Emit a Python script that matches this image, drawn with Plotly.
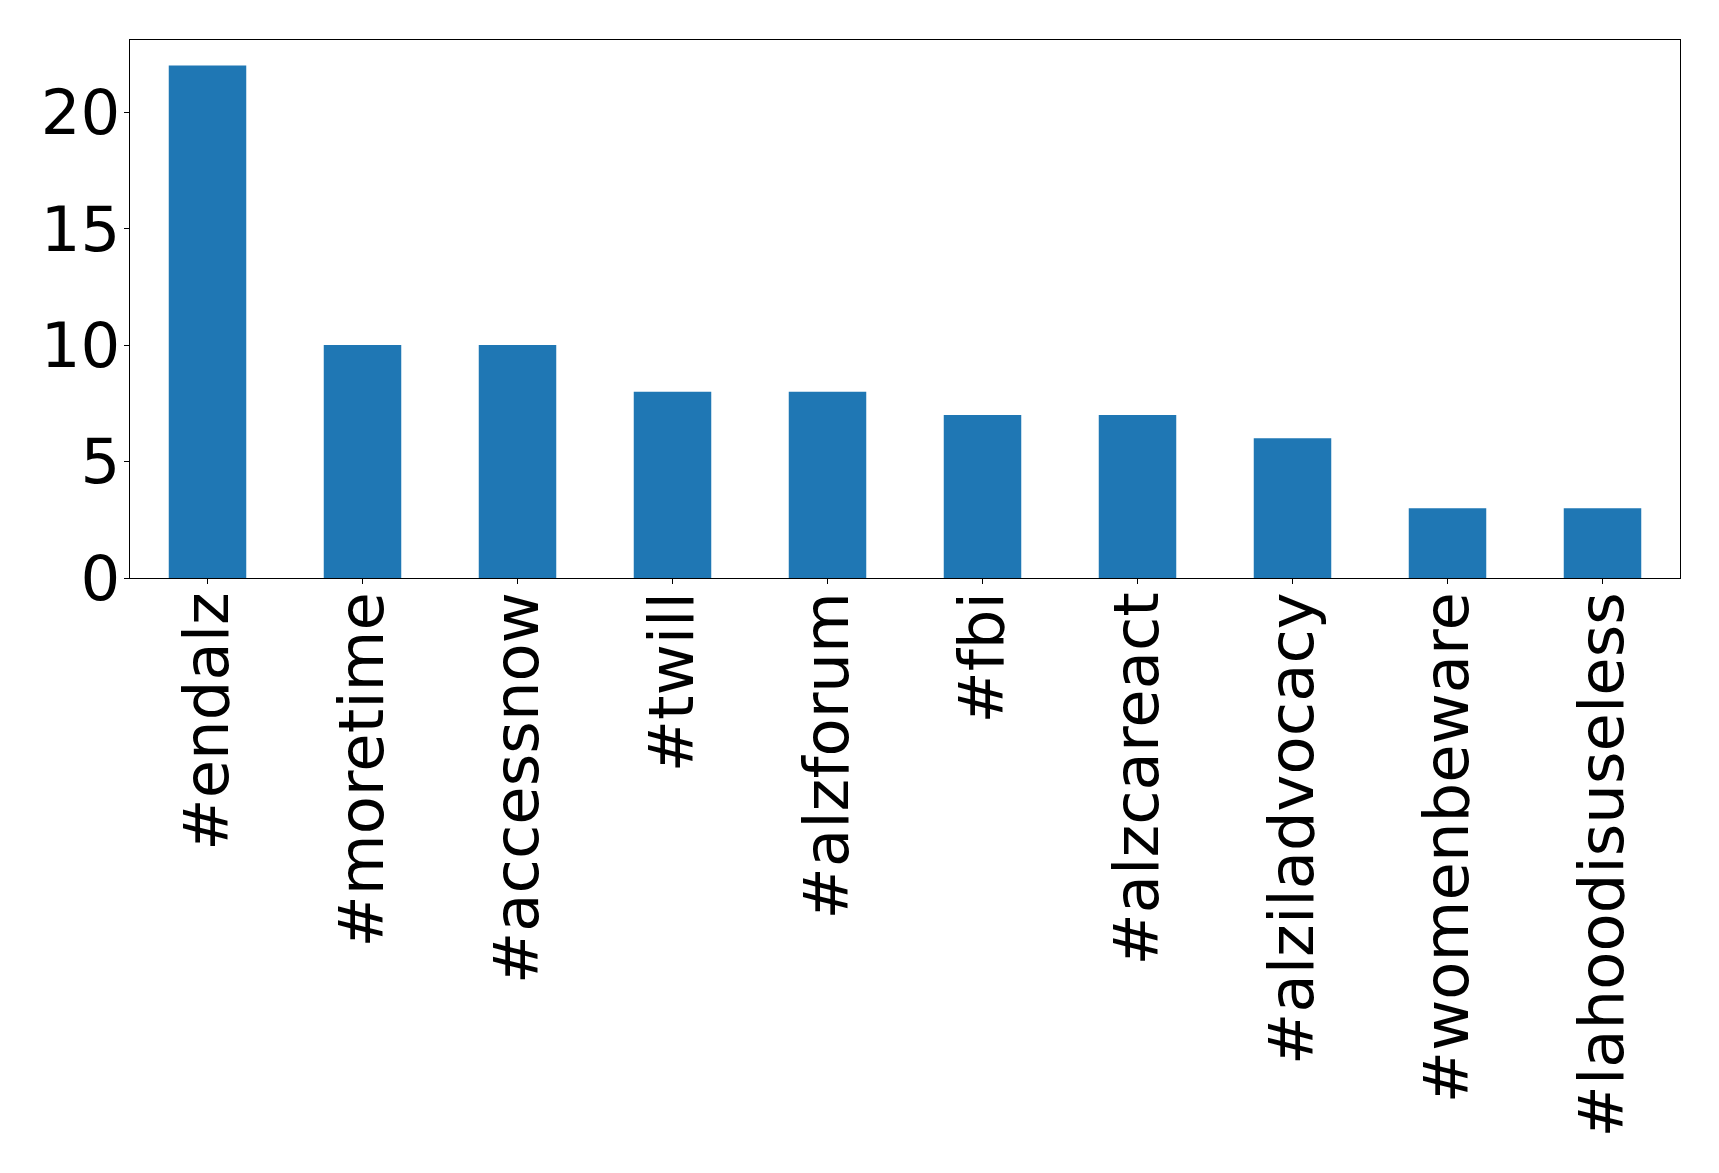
import plotly.graph_objects as go

categories = ["#endalz", "#moretime", "#accessnow", "#twill", "#alzforum",
              "#fbi", "#alzcareact", "#alziladvocacy", "#womenbeware", "#lahoodisuseless"]
counts = [22, 10, 10, 8, 8, 7, 7, 6, 3, 3]
y_ticks = [0, 5, 10, 15, 20]

fig = go.Figure(go.Bar(x=categories, y=counts, width=0.5, marker_color="#1f77b4",
                       marker_line_width=0))

fig.update_layout(
    width=1711, height=1165,
    margin=dict(l=121.5, r=39.3, t=31.5, b=595.3, pad=0),
    paper_bgcolor="white", plot_bgcolor="white",
    font=dict(family="DejaVu Sans", size=62.5, color="black"),
    showlegend=False,
)
fig.update_xaxes(type="category", range=[-0.5, 9.5], tickangle=-90,
                 showline=True, mirror=True, linecolor="black", linewidth=1.3,
                 ticks="outside", ticklen=5, tickwidth=1.3, tickcolor="black",
                 ticklabelstandoff=-17,
                 showgrid=False, zeroline=False)
fig.update_yaxes(range=[0, 23.1], tickvals=y_ticks,
                 showline=True, mirror=True, linecolor="black", linewidth=1.3,
                 ticks="outside", ticklen=5, tickwidth=1.3, tickcolor="black",
                 ticklabelstandoff=-9,
                 showgrid=False, zeroline=False)

fig.write_html("out.html")
